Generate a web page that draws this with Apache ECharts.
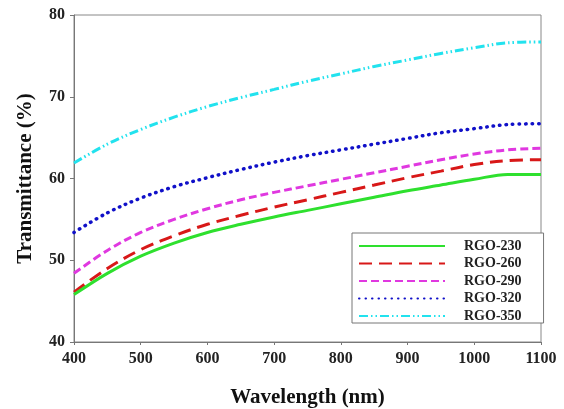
<!DOCTYPE html>
<html>
<head>
<meta charset="utf-8">
<script src="https://cdn.jsdelivr.net/npm/echarts@6/dist/echarts.min.js"></script>
<style>
html,body{margin:0;padding:0;background:#fff;}
#chart{width:564px;height:409px;}
</style>
</head>
<body>
<div id="chart"></div>
<script>
const wavelengths = [400,450,500,550,600,650,700,750,800,850,900,950,1000,1050,1100];
const rgo230 = [45.8,48.4,50.5,52.1,53.4,54.4,55.3,56.1,56.9,57.7,58.5,59.2,59.9,60.5,60.5];
const rgo260 = [46.1,49.0,51.3,53.0,54.4,55.5,56.5,57.4,58.3,59.2,60.1,60.9,61.7,62.2,62.3];
const rgo290 = [48.4,51.2,53.4,55.0,56.3,57.4,58.3,59.1,59.9,60.7,61.5,62.3,63.0,63.5,63.7];
const rgo320 = [53.4,55.8,57.6,59.0,60.1,61.1,62.0,62.8,63.5,64.2,64.9,65.6,66.1,66.6,66.7];
const rgo350 = [61.9,64.2,66.0,67.5,68.8,69.9,70.9,71.9,72.8,73.7,74.5,75.3,76.0,76.6,76.7];
const seriesNames = ['RGO-230','RGO-260','RGO-290','RGO-320','RGO-350'];
const xTicks = [400,500,600,700,800,900,1000,1100];
const yTicks = [40,50,60,70,80];

const allData = [rgo230, rgo260, rgo290, rgo320, rgo350];
const styles = [
  {color:'#2ee02e', type:'solid', width:3},
  {color:'#d81818', type:[13,7], width:3},
  {color:'#e038e0', type:[8,4], width:3},
  {color:'#1010c8', type:[0.5,6], width:3.5, cap:'round'},
  {color:'#22e2ee', type:[9,3,1.5,3,1.5,3], width:3}
];
const font = 'Liberation Serif';

const chart = echarts.init(document.getElementById('chart'), null, {renderer:'canvas'});
chart.setOption({
  backgroundColor:'#fff',
  animation:false,
  grid:{left:74, right:23, top:15, bottom:67, containLabel:false, outerBoundsMode:'none',
        show:true, borderColor:'#888', borderWidth:1, backgroundColor:'transparent'},
  xAxis:{
    type:'value', min:xTicks[0], max:xTicks[xTicks.length-1], interval:100,
    name:'Wavelength (nm)', nameLocation:'middle', nameGap:45,
    nameTextStyle:{fontFamily:font, fontWeight:'bold', fontSize:21, color:'#111'},
    axisLine:{lineStyle:{color:'#777', width:1}},
    axisTick:{show:true, length:3, lineStyle:{color:'#777'}},
    axisLabel:{fontFamily:font, fontWeight:'bold', fontSize:16, color:'#222', margin:9, formatter:v=>String(v)},
    splitLine:{show:false}
  },
  yAxis:{
    type:'value', min:yTicks[0], max:yTicks[yTicks.length-1], interval:10,
    name:'Transmittance (%)', nameLocation:'middle', nameGap:38, nameRotate:90,
    nameTextStyle:{fontFamily:font, fontWeight:'bold', fontSize:21, color:'#111'},
    axisLine:{lineStyle:{color:'#777', width:1}},
    axisTick:{show:true, length:4, lineStyle:{color:'#777'}},
    axisLabel:{fontFamily:font, fontWeight:'bold', fontSize:16, color:'#222', margin:9},
    splitLine:{show:false}
  },
  legend:{
    orient:'vertical', left:352, top:233,
    data:seriesNames,
    itemWidth:86, itemHeight:12, itemGap:3.5,
    padding:[6,22,0,6],
    borderColor:'#777', borderWidth:1, backgroundColor:'#fff',
    itemStyle:{opacity:0},
    textStyle:{fontFamily:font, fontWeight:'bold', fontSize:14, lineHeight:12, color:'#222', padding:[0,0,0,14]}
  },
  series: allData.map((d,i)=>({
    name:seriesNames[i], type:'line', smooth:0.35, showSymbol:false, symbol:'none',
    data: wavelengths.map((w,j)=>[w,d[j]]),
    lineStyle:Object.assign({}, styles[i]),
    itemStyle:{color:styles[i].color},
    z: 5-i
  }))
});
</script>
</body>
</html>
